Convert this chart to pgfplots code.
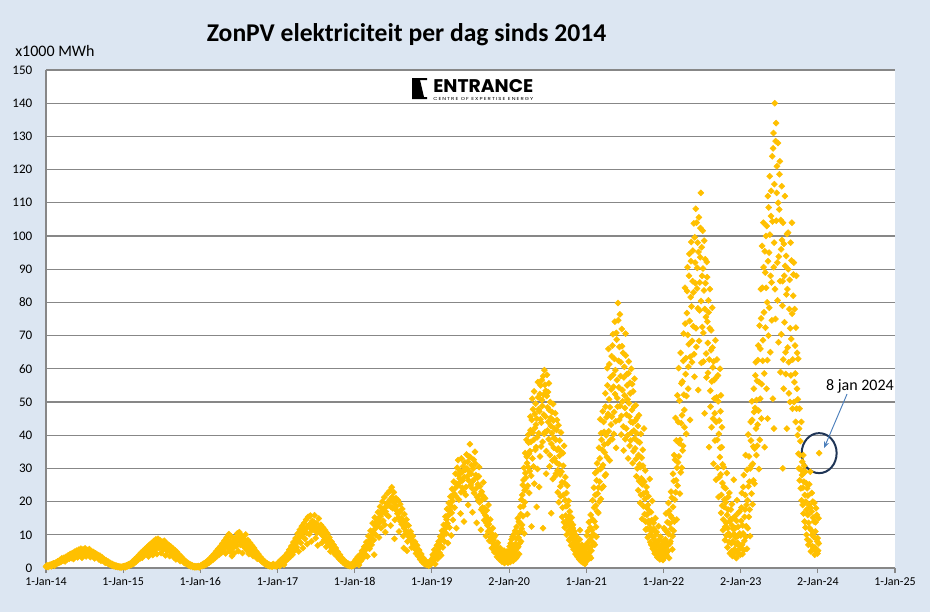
\documentclass[border=0pt]{standalone}
\usepackage{fontspec}
\setmainfont{Carlito}
\newfontfamily\logofont{Poppins}
\usepackage{graphicx}
\usepackage{pgfplots}
\usepackage{pgfplotstable}
\pgfplotsset{compat=1.18}
\usetikzlibrary{arrows.meta}
\definecolor{bg}{HTML}{DCE6F2}
\definecolor{sun}{HTML}{FFC000}
\definecolor{gridc}{HTML}{878787}
\definecolor{arrowc}{HTML}{4A7EBB}
\definecolor{navy}{HTML}{1F3556}

% daily solar PV production, x = days since 1 Jan 2014, y = x1000 MWh
\pgfplotstableread{
d v
0 0.4
5 0.8
10 0.3
15 0.6
20 1.0
25 0.5
30 0.9
35 1.4
40 0.7
45 1.6
50 1.2
55 2.0
60 1.5
65 2.4
70 1.8
75 2.9
80 2.2
85 3.1
90 2.0
95 3.4
100 2.6
105 3.8
110 2.8
115 4.2
120 3.0
125 4.5
130 2.7
135 4.9
140 3.6
145 5.2
150 3.2
155 5.5
160 4.0
165 5.8
170 3.1
175 5.6
180 4.4
185 5.9
190 3.5
195 5.4
200 4.6
205 5.7
210 3.3
215 5.1
220 4.2
225 4.8
230 2.9
235 4.4
240 3.6
245 4.0
250 2.6
255 3.7
260 2.2
265 3.2
270 2.5
275 2.7
280 1.6
285 2.3
290 1.8
295 1.9
300 1.1
305 1.5
310 0.9
315 1.2
320 0.6
325 0.9
330 0.4
335 0.7
340 0.3
345 0.5
350 0.2
355 0.4
360 0.3
365 0.3
370 0.6
375 0.2
380 0.8
385 0.5
390 1.1
395 0.7
400 1.4
405 1.0
410 2.0
415 1.3
420 2.6
425 1.8
430 3.2
435 2.4
440 3.9
445 2.9
450 4.6
455 3.1
460 5.2
465 3.8
470 5.8
475 4.2
480 6.4
485 3.5
490 7.0
495 4.8
500 7.5
505 3.9
510 8.1
515 5.4
520 8.6
525 4.2
530 8.8
535 6.0
540 8.3
545 4.5
550 7.9
555 5.6
560 8.2
565 3.8
570 7.4
575 5.1
580 7.0
585 3.6
590 6.5
595 4.6
600 5.9
605 3.2
610 5.4
615 2.6
620 4.8
625 3.3
630 4.0
635 2.1
640 3.4
645 2.5
650 2.7
655 1.5
660 2.1
665 1.2
670 1.6
675 0.8
680 1.2
685 0.5
690 0.9
695 0.3
700 0.6
705 0.2
710 0.5
715 0.3
720 0.6
725 0.2
730 0.4
735 0.9
740 0.6
745 1.3
750 0.8
755 1.7
760 1.1
765 2.2
770 1.5
775 2.8
780 2.0
785 3.5
790 2.5
795 4.2
800 3.0
805 5.0
810 3.6
815 5.8
820 4.1
825 6.5
830 4.6
835 7.4
840 5.2
845 8.3
850 4.4
855 9.2
860 6.1
865 10.2
870 5.0
875 9.6
880 3.6
885 8.0
890 4.4
895 9.0
900 6.5
905 10.4
910 5.1
915 10.8
920 7.0
925 9.8
930 4.5
935 8.9
940 6.2
945 10.1
950 5.4
955 8.4
960 4.2
965 7.6
970 5.6
975 6.8
980 3.6
985 6.0
990 4.4
995 5.0
1000 2.8
1005 4.2
1010 3.2
1015 3.3
1020 2.0
1025 2.6
1030 1.5
1035 2.0
1040 1.0
1045 1.5
1050 0.7
1055 1.1
1060 0.5
1065 0.9
1070 0.4
1075 1.2
1080 0.6
1085 0.9
1090 0.5
1095 0.8
1096 0.8
1101 1.8
1106 0.6
1111 2.4
1116 1.3
1121 3.0
1126 1.0
1131 3.6
1136 2.2
1141 4.4
1146 2.8
1151 5.5
1156 3.4
1161 6.6
1166 4.0
1171 7.8
1176 5.2
1181 9.0
1186 6.3
1191 10.4
1196 5.0
1201 11.5
1206 7.6
1211 12.6
1216 6.0
1221 13.5
1226 8.8
1231 14.6
1236 7.2
1241 15.4
1246 10.2
1251 15.8
1256 8.0
1261 14.2
1266 11.6
1271 15.9
1276 9.0
1281 13.4
1286 6.8
1291 14.9
1296 10.8
1301 13.0
1306 7.6
1311 12.2
1316 9.6
1321 11.4
1326 6.4
1331 10.5
1336 8.2
1341 9.2
1346 5.0
1351 8.0
1356 6.6
1361 7.0
1366 4.2
1371 6.0
1376 3.6
1381 4.9
1386 2.8
1391 4.0
1396 2.2
1401 3.0
1406 1.6
1411 2.3
1416 1.1
1421 1.7
1426 0.8
1431 1.3
1436 0.6
1441 1.0
1446 0.5
1451 1.4
1456 0.7
1461 1.0
1466 2.6
1471 1.5
1476 3.4
1481 0.9
1486 4.0
1491 2.2
1496 5.2
1501 3.0
1506 6.4
1511 4.1
1516 7.8
1521 3.5
1526 9.6
1531 5.8
1536 11.2
1541 7.0
1546 13.5
1551 8.4
1553 4.0
1556 15.2
1561 10.0
1566 12.6
1571 16.8
1576 9.2
1581 18.5
1586 12.0
1591 20.0
1596 14.2
1601 21.3
1603 13.0
1606 10.8
1611 19.4
1616 22.5
1621 15.6
1626 23.2
1631 12.8
1636 24.3
1641 18.0
1646 22.8
1649 8.8
1651 14.5
1656 21.0
1661 17.2
1666 20.4
1671 11.0
1676 19.2
1681 15.0
1686 17.8
1691 9.6
1693 6.0
1696 16.2
1701 12.4
1706 14.6
1708 5.2
1711 8.0
1716 12.8
1721 10.2
1726 11.0
1731 6.2
1736 9.6
1741 7.4
1746 7.9
1751 4.4
1756 6.8
1761 3.6
1766 5.4
1771 2.6
1776 4.2
1781 1.8
1786 3.0
1791 1.2
1796 2.2
1801 0.9
1806 1.6
1811 0.7
1816 1.9
1821 1.1
1826 1.5
1830 4.0
1834 2.2
1838 5.5
1842 1.2
1846 3.4
1850 6.8
1854 2.8
1858 8.0
1862 4.6
1866 9.5
1870 3.8
1874 11.2
1878 6.2
1882 13.0
1886 8.0
1890 15.5
1894 10.4
1898 17.8
1902 7.5
1906 19.6
1910 12.2
1914 21.5
1918 9.8
1922 23.8
1926 14.5
1930 26.0
1934 18.2
1938 28.4
1942 12.0
1946 30.2
1950 32.5
1954 20.6
1958 27.0
1962 16.4
1966 33.0
1970 24.2
1974 30.6
1978 14.0
1982 31.8
1986 22.0
1990 34.2
1994 27.6
1998 19.0
2002 33.6
2006 37.3
2010 25.0
2014 31.0
2018 16.8
2022 30.0
2026 22.6
2030 35.0
2034 28.0
2038 13.6
2042 27.2
2046 20.4
2050 30.4
2054 24.6
2058 11.5
2062 23.0
2066 18.2
2070 25.8
2074 14.4
2078 21.0
2082 9.6
2086 17.4
2090 12.8
2094 19.0
2098 8.2
2102 14.6
2106 10.6
2110 6.0
2114 12.0
2118 8.4
2122 4.8
2126 9.8
2130 6.2
2134 3.4
2138 7.6
2142 4.4
2146 2.6
2150 6.0
2154 3.2
2158 1.9
2162 4.5
2166 2.4
2170 1.5
2174 3.6
2178 2.0
2182 5.0
2186 1.6
2190 3.0
2191 3.2
2194 6.5
2197 1.8
2200 4.4
2203 8.6
2206 2.6
2209 5.8
2212 3.6
2215 10.2
2218 4.8
2221 7.2
2224 2.9
2227 12.4
2230 6.0
2233 15.0
2236 9.2
2239 4.2
2242 13.6
2245 18.4
2248 8.0
2251 11.8
2254 22.0
2257 15.6
2260 26.5
2263 10.4
2266 19.8
2269 28.6
2272 24.0
2275 33.5
2278 16.2
2281 30.4
2284 37.8
2287 22.6
2290 35.2
2293 41.5
2296 27.8
2298 12.5
2299 44.6
2302 33.0
2305 47.8
2308 38.6
2311 25.4
2314 42.2
2317 49.5
2320 36.4
2322 18.4
2323 45.0
2326 29.8
2329 51.4
2332 40.6
2335 47.2
2338 33.6
2341 55.0
2344 43.8
2347 50.6
2350 38.0
2352 12.0
2353 57.8
2356 46.2
2359 59.6
2362 41.0
2365 53.4
2368 35.2
2371 58.2
2374 48.4
2377 44.0
2380 55.6
2383 30.6
2386 50.0
2389 42.8
2391 16.5
2392 37.4
2395 47.0
2398 26.8
2401 44.4
2404 39.2
2407 33.0
2410 46.6
2413 28.4
2416 41.6
2419 35.6
2422 22.8
2425 43.0
2428 31.2
2431 38.4
2434 24.6
2437 40.8
2440 29.0
2443 15.4
2446 34.6
2449 22.0
2452 36.8
2455 12.2
2458 27.4
2461 18.6
2464 10.0
2467 24.8
2470 14.6
2473 20.2
2476 8.4
2479 17.0
2482 11.6
2485 6.8
2488 15.2
2491 9.4
2494 13.0
2497 5.6
2500 11.0
2503 7.8
2506 4.2
2509 9.6
2512 6.2
2515 3.4
2518 8.2
2521 5.0
2524 2.6
2527 11.4
2530 4.6
2533 2.0
2536 7.0
2539 3.8
2542 1.6
2545 5.4
2548 2.8
2551 1.2
2554 4.0
2556 2.2
2557 4.6
2560 9.8
2563 2.4
2566 6.2
2569 13.8
2572 3.6
2575 8.4
2578 16.0
2581 5.2
2584 11.4
2587 20.4
2590 7.6
2593 24.2
2596 14.0
2599 28.6
2602 18.8
2605 9.4
2608 31.5
2611 22.4
2614 16.6
2617 36.2
2620 26.0
2623 44.8
2626 20.8
2629 38.6
2632 30.4
2635 47.2
2638 24.6
2641 41.0
2644 34.8
2647 52.6
2650 28.2
2653 45.4
2656 60.2
2659 37.6
2662 66.0
2665 50.8
2668 32.4
2671 57.4
2674 43.2
2677 63.8
2680 38.8
2683 70.4
2686 54.6
2689 47.0
2692 74.2
2695 59.6
2698 36.2
2701 68.8
2704 51.2
2707 79.8
2710 62.4
2713 44.6
2716 76.4
2719 57.8
2722 40.2
2725 72.0
2728 53.6
2731 64.8
2734 35.4
2737 60.6
2740 48.2
2743 70.6
2746 42.0
2749 58.4
2752 50.8
2755 33.0
2758 62.2
2761 45.6
2764 55.8
2767 38.4
2770 60.0
2773 47.6
2776 31.6
2779 53.2
2782 41.4
2785 57.0
2788 36.0
2791 49.0
2794 27.6
2797 45.2
2800 38.2
2803 23.4
2806 46.0
2809 31.2
2812 19.6
2815 40.4
2818 27.0
2821 14.8
2824 35.6
2827 22.4
2830 42.0
2833 16.2
2836 29.4
2839 11.6
2842 24.4
2845 18.0
2848 9.2
2851 21.6
2854 13.4
2857 26.8
2860 7.8
2863 16.8
2866 11.0
2869 20.2
2872 5.8
2875 13.6
2878 8.6
2881 4.4
2884 15.0
2887 6.8
2890 10.8
2893 3.2
2896 8.0
2899 12.6
2902 4.8
2905 2.6
2908 9.4
2911 5.6
2914 3.0
2917 7.2
2920 2.4
2922 5.4
2925 12.0
2928 3.2
2931 8.6
2934 16.4
2937 4.6
2940 10.8
2943 6.8
2946 19.6
2949 3.0
2952 13.4
2955 8.0
2958 23.0
2961 15.2
2964 5.6
2967 28.4
2970 11.2
2973 34.0
2976 20.6
2979 45.2
2982 26.4
2985 14.6
2988 52.0
2991 31.8
2994 60.2
2997 37.6
3000 22.4
3003 64.8
3006 43.6
3009 30.2
3012 56.2
3015 36.8
3018 70.6
3021 47.6
3024 84.4
3027 58.4
3030 40.4
3033 76.8
3036 90.6
3039 54.0
3042 67.4
3045 94.6
3048 44.6
3051 81.6
3054 98.2
3057 62.0
3060 86.4
3063 72.8
3066 103.8
3069 57.6
3072 92.0
3075 108.2
3078 66.6
3081 84.2
3084 98.0
3087 53.6
3090 105.6
3093 77.6
3096 93.6
3099 113.0
3102 61.8
3105 88.0
3108 101.6
3111 70.8
3114 83.6
3117 46.6
3120 93.0
3123 75.6
3126 57.4
3129 87.6
3132 67.8
3135 80.6
3138 36.4
3141 72.2
3144 53.4
3147 65.6
3150 42.4
3153 78.4
3156 60.4
3159 31.4
3162 56.6
3165 46.6
3168 68.6
3171 26.6
3174 51.4
3177 38.6
3180 58.0
3183 21.4
3186 44.4
3189 33.4
3190 60.0
3192 47.2
3194 52.0
3195 16.6
3198 36.4
3199 42.4
3201 25.6
3204 11.4
3207 30.4
3210 18.4
3213 8.4
3216 24.0
3219 13.6
3222 28.6
3225 6.2
3228 17.6
3231 10.4
3234 22.6
3237 4.4
3240 14.8
3243 7.4
3246 19.2
3249 3.6
3252 11.8
3255 26.6
3258 5.6
3261 15.6
3264 9.2
3267 3.0
3270 20.4
3273 7.6
3276 12.4
3279 4.2
3282 17.0
3285 6.6
3287 6.0
3290 14.2
3293 22.6
3296 4.2
3299 10.4
3302 28.0
3305 8.2
3308 17.6
3311 34.0
3314 12.6
3317 5.8
3320 20.4
3323 40.2
3326 15.4
3329 26.0
3332 9.6
3335 44.0
3338 30.8
3341 50.2
3344 19.2
3347 36.6
3350 54.0
3353 25.4
3356 48.2
3359 62.0
3362 34.0
3365 56.4
3368 43.2
3371 67.0
3374 29.8
3377 73.0
3380 51.0
3383 84.0
3386 45.0
3389 97.0
3392 62.4
3395 104.0
3398 77.0
3401 36.4
3404 89.0
3407 100.0
3410 54.0
3413 80.0
3415 45.0
3416 112.0
3419 70.0
3422 95.0
3425 118.0
3428 65.0
3431 106.0
3434 86.0
3437 124.0
3440 51.0
3443 131.0
3445 42.0
3446 98.0
3449 140.0
3452 75.0
3455 134.0
3458 113.0
3461 92.0
3464 128.0
3467 68.0
3470 108.0
3473 122.5
3476 59.0
3479 96.0
3482 115.0
3485 79.0
3487 30.0
3488 104.0
3491 54.0
3494 88.0
3497 112.0
3500 65.0
3503 94.0
3506 42.0
3509 84.0
3512 101.0
3515 62.0
3518 78.0
3521 50.0
3524 98.0
3527 69.0
3530 104.0
3533 48.0
3536 82.0
3539 92.0
3542 56.0
3545 67.0
3548 44.0
3551 88.0
3554 54.0
3557 40.0
3560 63.0
3563 30.0
3566 48.0
3569 34.0
3572 24.0
3575 44.0
3578 28.0
3581 19.0
3584 34.0
3587 26.0
3590 14.0
3593 29.0
3596 20.0
3599 10.0
3602 24.0
3605 16.0
3608 7.0
3611 19.0
3614 12.0
3617 29.0
3620 5.0
3623 17.0
3626 10.0
3629 20.0
3632 6.0
3635 14.0
3638 4.0
3641 11.0
3644 18.0
3647 5.0
3650 8.0
3652 9.0
3654 5.2
3656 15.0
3657 7.4
3659 34.6
}\pvdata

% further days that fill the bands
\pgfplotstableread{
d v
2 0.6
7 0.5
12 0.7
17 0.9
22 0.7
27 1.1
32 1.2
37 1.0
42 1.3
47 1.4
52 1.7
57 1.6
62 2.0
67 1.9
72 2.4
77 2.5
82 2.7
87 2.5
92 2.9
97 3.0
102 3.3
107 3.2
112 3.6
117 3.5
122 3.9
127 3.6
132 4.1
137 4.3
142 4.4
147 4.0
152 4.6
157 4.8
162 4.9
167 4.5
172 4.9
177 5.0
182 5.1
187 4.7
192 4.8
197 4.9
202 5.1
207 4.5
212 4.6
217 4.3
222 4.6
227 3.8
232 3.9
237 3.7
242 3.4
247 3.2
252 3.1
257 2.9
262 2.7
267 2.4
272 2.1
277 2.0
282 1.9
287 1.7
292 1.4
297 1.3
302 1.3
307 1.0
312 0.8
317 0.8
322 0.7
327 0.5
332 0.6
337 0.4
342 0.4
347 0.3
352 0.3
357 0.2
362 0.4
367 0.5
372 0.4
377 0.6
382 0.5
387 0.9
392 0.8
397 1.1
402 1.2
407 1.5
412 1.6
417 2.0
422 2.1
427 2.5
432 2.7
437 3.1
442 3.3
447 3.8
452 3.9
457 4.3
462 4.5
467 4.9
472 5.1
477 5.4
482 5.0
487 5.8
492 6.0
497 6.3
502 5.7
507 6.5
512 6.8
517 7.0
522 6.4
527 7.2
532 7.0
537 7.3
542 6.6
547 6.9
552 6.2
557 6.8
562 6.0
567 6.1
572 5.8
577 6.0
582 5.3
587 5.5
592 5.2
597 5.0
602 4.5
607 4.4
612 4.0
617 3.8
622 3.9
627 3.1
632 3.0
637 2.8
642 2.5
647 2.2
652 2.0
657 1.8
662 1.5
667 1.4
672 1.1
677 1.0
682 0.8
687 0.7
692 0.6
697 0.5
702 0.4
707 0.4
712 0.3
717 0.4
722 0.4
727 0.3
732 0.6
737 0.7
742 1.0
747 0.9
752 1.2
757 1.4
762 1.6
767 1.8
772 2.2
777 2.4
782 2.9
787 3.0
792 3.4
797 3.6
802 4.0
807 4.3
812 4.7
817 4.9
822 5.4
827 5.5
832 6.0
837 6.2
842 6.8
847 6.3
852 7.5
857 7.0
862 8.3
867 7.6
872 8.0
877 6.4
882 5.8
887 6.5
892 7.2
897 7.7
902 8.6
907 8.2
912 9.0
917 8.6
922 8.2
927 7.4
932 6.8
937 7.5
942 8.3
947 7.6
952 7.0
957 6.2
962 6.0
967 6.4
972 5.2
977 4.8
982 4.7
987 4.5
992 3.8
997 3.6
1002 3.4
1007 3.0
1012 2.6
1017 2.5
1022 2.2
1027 1.9
1032 1.7
1037 1.4
1042 1.2
1047 1.0
1052 0.9
1057 0.8
1062 0.7
1067 0.6
1072 0.7
1077 0.8
1082 0.9
1087 0.6
1092 0.7
1098 1.2
1103 1.0
1108 1.5
1113 1.6
1118 2.0
1123 1.9
1128 2.4
1133 2.8
1138 3.2
1143 3.4
1148 4.0
1153 4.3
1158 4.8
1163 5.2
1168 5.9
1173 6.4
1178 7.1
1183 7.5
1188 8.3
1193 8.0
1198 9.0
1203 9.5
1208 10.2
1213 9.6
1218 10.8
1223 11.2
1228 11.8
1233 10.6
1238 12.4
1243 12.8
1248 13.2
1253 12.0
1258 11.4
1263 12.6
1268 13.8
1273 12.4
1278 11.2
1283 10.6
1288 11.6
1293 12.2
1298 11.0
1303 10.2
1308 9.8
1313 10.4
1318 8.6
1323 8.8
1328 8.4
1333 7.6
1338 7.0
1343 7.2
1348 6.4
1353 5.8
1358 5.4
1363 5.6
1368 4.8
1373 4.4
1378 4.0
1383 3.7
1388 3.3
1393 3.0
1398 2.6
1403 2.4
1408 2.0
1413 1.8
1418 1.5
1423 1.3
1428 1.1
1433 0.9
1438 0.9
1443 0.8
1448 0.9
1453 1.0
1458 1.2
1463 1.8
1468 1.4
1473 2.4
1478 2.0
1483 2.8
1488 3.0
1493 3.6
1498 4.0
1503 4.6
1508 5.2
1513 5.8
1518 6.2
1523 6.8
1528 7.6
1533 8.4
1538 9.2
1543 10.0
1548 10.8
1554 11.6
1558 12.8
1563 13.6
1568 14.2
1573 14.8
1578 13.6
1583 15.6
1588 16.6
1593 17.4
1598 16.8
1604 18.2
1608 17.0
1613 16.0
1618 18.8
1623 19.8
1628 20.6
1633 18.4
1638 21.4
1643 20.0
1648 19.6
1653 17.8
1658 18.6
1663 16.4
1668 15.2
1673 16.8
1678 14.0
1683 13.2
1688 14.4
1694 12.0
1698 13.6
1703 11.0
1709 10.4
1713 10.8
1718 9.4
1723 8.6
1728 8.8
1733 7.8
1738 7.2
1743 6.0
1748 5.6
1753 5.6
1758 5.0
1763 4.6
1768 3.8
1773 3.4
1778 3.2
1783 2.6
1788 2.4
1793 1.8
1798 1.6
1803 1.3
1808 1.2
1813 1.4
1818 1.0
1823 2.4
1828 2.8
1832 3.2
1836 3.8
1840 2.6
1844 4.8
1848 5.0
1852 4.2
1856 5.6
1860 6.6
1864 7.0
1868 6.6
1872 8.6
1876 9.4
1880 10.2
1884 10.8
1888 11.8
1892 13.0
1896 14.6
1900 13.4
1904 15.8
1908 16.2
1912 17.4
1916 18.8
1920 16.6
1924 20.2
1928 21.8
1932 22.4
1936 24.0
1940 21.6
1944 25.4
1948 24.8
1952 28.0
1956 25.6
1960 29.2
1964 22.8
1968 28.8
1972 26.4
1976 23.0
1980 27.4
1984 29.6
1988 24.4
1992 30.0
1996 32.0
2000 26.4
2004 29.0
2008 33.4
2012 28.4
2016 24.0
2020 26.2
2024 32.6
2028 26.8
2032 31.4
2036 24.0
2040 21.4
2044 25.2
2048 27.6
2052 19.8
2056 22.2
2060 17.6
2064 20.6
2068 21.8
2072 16.6
2076 18.0
2080 15.8
2084 13.6
2088 15.0
2092 11.0
2096 13.2
2100 11.4
2104 9.2
2108 10.4
2112 8.6
2116 7.4
2120 9.2
2124 6.6
2128 5.8
2132 7.0
2136 5.0
2140 4.2
2144 5.4
2148 3.6
2152 3.0
2156 4.2
2160 2.6
2164 3.4
2168 5.2
2172 2.8
2176 2.2
2180 3.8
2184 2.6
2188 4.4
2192 5.0
2196 2.4
2199 7.4
2202 3.0
2205 5.2
2208 9.4
2211 2.2
2214 6.8
2217 4.0
2220 11.2
2223 5.4
2226 8.8
2229 3.4
2232 10.6
2235 6.4
2238 14.0
2241 7.4
2244 11.0
2247 16.2
2250 20.6
2253 13.0
2256 25.0
2259 18.6
2262 30.2
2265 23.4
2268 34.6
2271 27.2
2274 38.6
2277 31.6
2280 24.8
2283 40.2
2286 34.4
2289 29.2
2292 45.6
2295 38.0
2301 51.0
2304 40.8
2307 30.6
2310 53.2
2313 46.4
2316 35.6
2319 43.2
2325 39.4
2328 56.0
2331 47.8
2334 24.4
2337 52.4
2340 44.8
2343 36.6
2346 56.6
2349 48.8
2355 52.2
2358 40.4
2361 55.2
2364 45.6
2367 28.4
2370 51.8
2373 41.4
2376 53.0
2379 38.8
2382 47.6
2385 34.0
2388 45.2
2394 40.6
2397 32.4
2400 49.4
2403 36.2
2406 42.0
2409 27.6
2412 38.6
2415 31.8
2418 44.6
2421 29.4
2424 36.0
2427 19.8
2430 33.8
2433 28.2
2436 21.6
2439 35.0
2442 25.8
2445 18.2
2448 30.8
2451 13.8
2454 25.6
2457 20.4
2460 15.8
2463 22.6
2466 13.4
2469 18.8
2472 11.2
2475 15.6
2478 12.8
2481 8.8
2484 13.8
2487 10.2
2490 7.2
2493 12.0
2496 8.6
2499 6.4
2502 10.2
2505 5.8
2508 8.0
2511 4.8
2514 7.2
2517 3.8
2520 6.6
2523 4.2
2526 8.6
2529 3.2
2532 5.6
2535 2.4
2538 4.8
2541 3.0
2544 6.2
2547 1.8
2550 3.6
2553 2.4
2555 6.0
2558 7.2
2561 3.2
2564 11.0
2567 4.4
2570 8.0
2573 5.6
2576 12.2
2579 3.0
2582 9.4
2585 6.8
2588 14.6
2591 10.2
2594 18.2
2597 7.0
2600 22.0
2603 12.4
2606 26.4
2609 17.0
2612 29.4
2615 24.2
2618 20.0
2621 33.0
2624 29.8
2627 40.6
2630 24.0
2633 35.6
2636 31.0
2639 44.0
2642 37.2
2645 27.8
2648 48.6
2651 40.0
2654 33.4
2657 55.0
2660 46.4
2663 41.2
2666 61.4
2669 48.4
2672 38.6
2675 53.8
2678 45.6
2681 67.0
2684 58.2
2687 40.4
2690 63.0
2693 52.4
2696 44.2
2699 70.8
2702 56.6
2705 48.6
2708 74.6
2711 54.4
2714 66.6
2717 48.8
2720 62.0
2723 45.8
2726 66.8
2729 50.2
2732 42.6
2735 57.4
2738 52.0
2741 38.8
2744 64.0
2747 46.2
2750 55.0
2753 40.0
2756 58.6
2759 49.6
2762 36.8
2765 52.6
2768 44.0
2771 40.8
2774 55.4
2777 43.8
2780 35.2
2783 48.6
2786 39.0
2789 44.4
2792 32.8
2795 40.6
2798 30.0
2801 42.8
2804 34.0
2807 26.2
2810 37.8
2813 30.4
2816 22.0
2819 33.2
2822 25.2
2825 30.8
2828 18.6
2831 26.0
2834 20.8
2837 14.0
2840 22.8
2843 16.0
2846 11.8
2849 19.0
2852 14.2
2855 9.8
2858 17.0
2861 12.0
2864 7.0
2867 14.4
2870 9.6
2873 6.0
2876 11.8
2879 7.2
2882 5.0
2885 10.0
2888 5.2
2891 7.6
2894 4.2
2897 6.6
2900 3.6
2903 8.4
2906 4.0
2909 6.0
2912 2.8
2915 5.0
2918 3.8
2921 6.4
2923 8.2
2926 3.8
2929 6.2
2932 11.4
2935 4.0
2938 7.6
2941 13.8
2944 5.2
2947 10.2
2950 17.2
2953 7.4
2956 15.8
2959 11.8
2962 21.2
2965 9.6
2968 18.4
2971 26.2
2974 14.0
2977 32.6
2980 22.8
2983 38.4
2986 30.2
2989 24.8
2992 44.0
2995 33.6
2998 50.4
3001 38.6
3004 28.8
3007 55.6
3010 46.0
3013 35.4
3016 62.4
3019 52.2
3022 42.4
3025 73.6
3028 63.2
3031 51.8
3034 83.4
3037 70.2
3040 60.6
3043 88.0
3046 74.4
3049 63.6
3052 92.4
3055 78.8
3058 68.4
3061 95.6
3064 83.0
3067 64.4
3070 99.6
3073 85.8
3076 72.2
3079 104.0
3082 90.4
3085 78.2
3088 95.2
3091 68.4
3094 86.0
3097 102.4
3100 80.4
3103 96.6
3106 72.6
3109 90.2
3112 62.2
3115 98.6
3118 78.0
3121 85.8
3124 64.6
3127 92.2
3130 74.2
3133 58.8
3136 77.0
3139 62.8
3142 84.0
3145 48.6
3148 71.6
3151 56.2
3154 66.4
3157 45.0
3160 62.2
3163 51.0
3166 38.4
3169 57.2
3172 44.0
3175 62.8
3178 30.2
3181 50.2
3184 40.4
3187 27.4
3191 36.2
3193 28.2
3196 22.0
3200 18.8
3202 31.2
3205 14.6
3208 24.4
3211 20.6
3214 12.4
3217 19.8
3220 9.8
3223 16.0
3226 12.0
3229 21.4
3232 7.8
3235 14.0
3238 9.6
3241 17.6
3244 5.0
3247 12.8
3250 8.0
3253 15.0
3256 10.2
3259 4.6
3262 12.0
3265 7.2
3268 14.2
3271 5.2
3274 9.6
3277 16.6
3280 6.8
3283 10.4
3286 4.0
3288 9.8
3291 18.2
3294 7.0
3297 12.8
3300 24.4
3303 5.4
3306 15.4
3309 22.0
3312 9.4
3315 19.0
3318 29.6
3321 12.0
3324 24.6
3327 33.6
3330 17.6
3333 30.0
3336 38.4
3339 22.4
3342 44.6
3345 31.4
3348 26.4
3351 47.0
3354 36.0
3357 58.0
3360 42.0
3363 50.6
3366 36.8
3369 62.6
3372 47.4
3375 56.0
3378 38.6
3381 66.0
3384 75.2
3387 55.4
3390 84.4
3393 68.6
3396 90.6
3399 58.6
3402 95.4
3405 72.4
3408 84.4
3411 103.0
3414 62.6
3417 92.4
3420 108.6
3423 78.4
3426 100.4
3429 88.0
3432 113.6
3435 74.6
3438 104.4
3441 126.4
3444 90.6
3447 115.6
3450 84.0
3453 128.6
3456 104.6
3459 121.0
3462 80.6
3465 110.0
3468 93.8
3471 118.6
3474 86.4
3477 104.8
3480 70.4
3483 98.8
3486 86.4
3489 62.8
3492 97.6
3495 74.0
3498 91.0
3501 58.4
3504 82.4
3507 100.6
3510 66.4
3513 90.0
3516 52.6
3519 86.8
3522 72.2
3525 58.0
3528 92.6
3531 76.6
3534 62.8
3537 88.4
3540 50.0
3543 78.0
3546 58.6
3549 72.4
3552 48.0
3555 64.8
3558 50.8
3561 34.4
3564 42.0
3567 26.4
3570 38.2
3573 29.6
3576 20.4
3579 32.0
3582 24.2
3585 16.4
3588 30.8
3591 22.0
3594 12.2
3597 25.6
3600 17.6
3603 8.6
3606 21.8
3609 13.6
3612 25.2
3615 8.0
3618 18.2
3621 11.4
3624 22.6
3627 6.6
3630 15.2
3633 9.4
3636 19.6
3639 6.2
3642 13.8
3645 8.8
3648 16.0
3651 4.4
}\pvextra

\begin{document}
\begin{tikzpicture}[x=0.75pt,y=0.75pt]
\useasboundingbox (0,0) rectangle (930,612);
\fill[bg] (0,0) rectangle (930,612);
\begin{axis}[
  at={(34.5pt,33pt)}, anchor=south west, scale only axis,
  width=636.75pt, height=373.5pt,
  xmin=0, xmax=4018, ymin=0, ymax=150,
  axis background/.style={fill=white},
  axis x line*=bottom, axis y line*=left,
  axis line style={gridc, line width=0.8pt},
  xtick={0,365,730,1096,1461,1826,2192,2557,2922,3288,3653,4018},
  xticklabels={1-Jan-14,1-Jan-15,1-Jan-16,1-Jan-17,1-Jan-18,1-Jan-19,2-Jan-20,1-Jan-21,1-Jan-22,2-Jan-23,2-Jan-24,1-Jan-25},
  ytick={0,10,...,150},
  ymajorgrids, grid style={gridc, line width=0.9pt},
  tick align=outside, major tick length=3.75pt,
  xtick style={gridc, line width=0.8pt},
  ytick style={draw=none},
  xticklabel style={font=\fontsize{9}{10}\selectfont},
  yticklabel style={font=\fontsize{9.8}{11}\selectfont, xshift=-3pt},
  /pgf/number format/assume math mode=true,
  clip=false,
]
\addplot[only marks, mark=square*, mark size=1.6pt, mark options={rotate=45, fill=sun, draw=sun}] table[x=d,y=v] {\pvdata};
\addplot[only marks, mark=square*, mark size=1.6pt, mark options={rotate=45, fill=sun, draw=sun}] table[x=d,y=v] {\pvextra};
\draw[navy, line width=1.5pt] (axis cs:3659,34.6) ellipse [x radius=13.1pt, y radius=15pt];
\draw[arrowc, line width=0.7pt, -{Stealth[length=5pt,width=4pt]}] (axis cs:3791,52.4) -- (axis cs:3682,36.1);
\node[font=\fontsize{12}{14}\selectfont, inner sep=0] at (axis cs:3852,54.6) {8 jan 2024};
\end{axis}
\node[anchor=base, inner sep=0, font=\bfseries\fontsize{19.2}{21}\selectfont] at (406.5,570) {ZonPV elektriciteit per dag sinds 2014};
\node[anchor=base west, inner sep=0, font=\fontsize{12}{14}\selectfont] at (15,555.3) {x1000 MWh};
\fill[black] (412,534) -- (427,534) -- (427,532) -- (420,532) -- (424,515) -- (427,515) -- (427,513) -- (412,513) -- cycle;
\node[anchor=base west, inner sep=0] at (433,520) {\resizebox{75pt}{9.75pt}{\logofont\bfseries ENTRANCE}};
\node[anchor=base west, inner sep=0] at (433,512) {\resizebox{75pt}{2.3pt}{\logofont\addfontfeature{LetterSpace=20}CENTRE OF EXPERTISE ENERGY}};
\end{tikzpicture}
\end{document}
